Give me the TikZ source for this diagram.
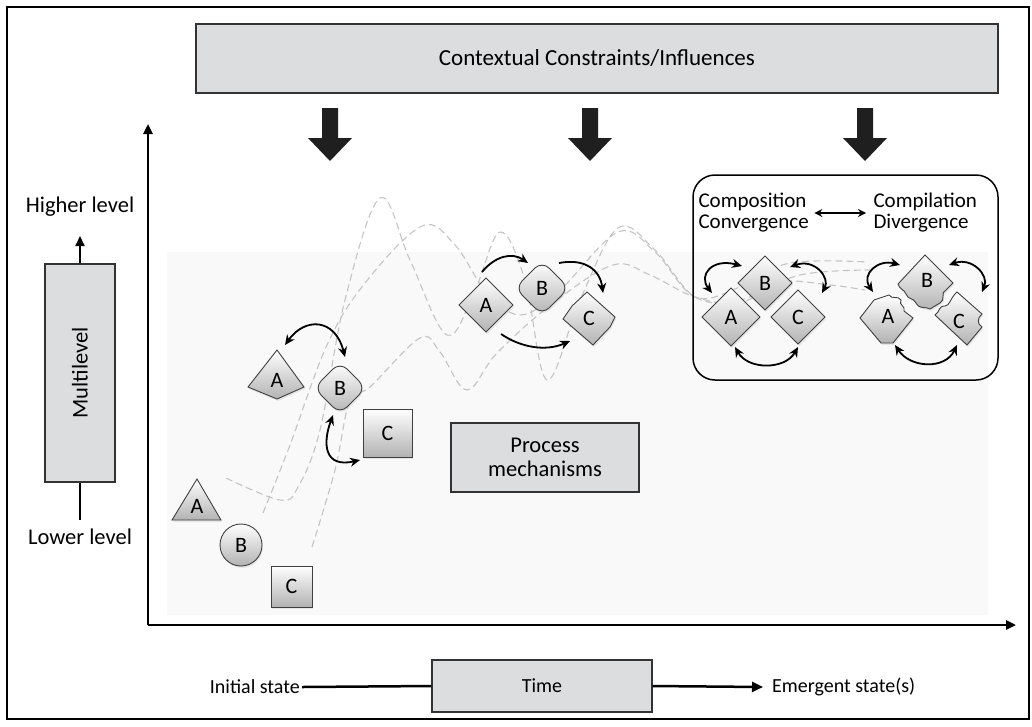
\documentclass[tikz,border=0pt]{standalone}
\usepackage{fontspec}
\setmainfont{Carlito}
\usetikzlibrary{arrows.meta,calc,shadows}
\definecolor{boxgray}{RGB}{220,221,223}
\definecolor{curvegray}{RGB}{196,196,196}
\definecolor{bgfaint}{RGB}{249,249,249}
\begin{document}
\begin{tikzpicture}[x=1pt,y=-1pt,
  font=\fontsize{22.5}{24}\selectfont,
  graybox/.style={draw=black!80, fill=boxgray, line width=1.3pt},
  shp/.style={draw=black!75, line width=0.9pt, top color=white, bottom color=black!30,
    drop shadow={opacity=0.15, shadow xshift=1pt, shadow yshift=-2pt}},
  lbl/.style={inner sep=0pt, font=\fontsize{22}{24}\selectfont},
  dcurve/.style={draw=curvegray, dash pattern=on 7pt off 4pt, line width=1.1pt},
  lnk/.style={line width=1.8pt, -{Stealth[length=10pt,width=9pt]}},
  dlnk/.style={line width=1.8pt, {Stealth[length=10pt,width=9pt]}-{Stealth[length=10pt,width=9pt]}},
  axis/.style={line width=2.4pt, -{Triangle[length=10pt,width=9pt]}},
  blk/.style={fill=black!88}
]
\useasboundingbox (0,0) rectangle (1032,726);
% frame
\draw[line width=1.5pt] (7,7) rectangle (1029,719);
% faint background
\fill[bgfaint] (167,252) rectangle (988,615);

% top box
\node[graybox, minimum width=802pt, minimum height=69pt, font=\fontsize{23}{25}\selectfont] (ctx) at (597,58.5) {Contextual Constraints/Influences};
\foreach \ax in {330,590,865}{
  \fill[blk] ({\ax-8},108) -- ({\ax+8},108) -- ({\ax+8},138) -- ({\ax+22},138) -- (\ax,161) -- ({\ax-22},138) -- ({\ax-8},138) -- cycle;
}

% axes
\coordinate (origin) at (148,625);
\coordinate (ytop) at (148,124);
\coordinate (xend) at (1016,625);
\draw[axis] (origin) -- (ytop);
\draw[axis] (origin) -- (xend);

% multilevel
\node[graybox, minimum width=70pt, minimum height=218pt] (ml) at (80,373) {};
\node[rotate=90] (mltxt) at (ml.center) {Multilevel};
\node (hl) at (80,207) {Higher level};
\node (ll) at (80,537) {Lower level};
\coordinate (mlup) at (80,236);
\coordinate (mldown) at (80,520);
\draw[line width=2pt, -{Triangle[length=10pt,width=9pt]}] (ml.north) -- (mlup);
\draw[line width=2pt] (ml.south) -- (mldown);

% time
\node[anchor=east, font=\fontsize{20}{22}\selectfont, inner sep=2pt] (init) at (302,687) {Initial state};
\node[graybox, minimum width=220pt, minimum height=52pt, font=\fontsize{20}{22}\selectfont] (time) at (542,686) {Time};
\node[anchor=west, font=\fontsize{20}{22}\selectfont, inner sep=2pt] (emerg) at (770,687) {Emergent state(s)};
\coordinate (tip) at (763,687);
\draw[line width=2.5pt] (init.east) -- (time.west);
\draw[line width=2.5pt, -{Triangle[length=11pt,width=10pt]}] (time.east) -- (tip);

% dashed trajectories
\draw[dcurve] plot[smooth, tension=0.6] coordinates {(263,513) (290,445) (327,345) (365,283) (422,226) (455,245) (485,290) (520,315) (560,290) (618,232) (655,252) (695,297) (740,287) (790,263) (868,262)};
\draw[dcurve] plot[smooth, tension=0.6] coordinates {(226,478) (280,500) (298,487) (320,430) (345,300) (380,198) (410,260) (447,335) (475,290) (500,232) (525,280) (547,380) (580,300) (618,228) (655,250) (695,297) (740,300) (800,275) (870,270)};
\draw[dcurve] plot[smooth, tension=0.6] coordinates {(312,547) (335,470) (350,400) (370,387) (420,338) (440,352) (467,390) (497,353) (553,303) (613,265) (650,275) (695,297) (740,303) (780,282) (830,285) (865,290)};

% process mechanisms
\node[graybox, minimum width=188pt, minimum height=69pt, align=center, font=\fontsize{22.5}{24}\selectfont] (proc) at (545,457.5) {Process\\mechanisms};

% stage 1
\path[shp] (197,479) -- (221,520) -- (172,520) -- cycle;
\path[shp] (241,545) circle[radius=21];
\path[shp] (271,566) rectangle (312,607);
\node[lbl] (s1A) at (197,506) {A};
\node[lbl] (s1B) at (241,545) {B};
\node[lbl] (s1C) at (291.5,586.5) {C};

% stage 2
\path[shp] (277,350) -- (304,387) -- (277,399) -- (248,387) -- cycle;
\path[shp, rounded corners=10pt] (340,362) -- (366,388) -- (340,414) -- (314,388) -- cycle;
\path[shp] (363,409) rectangle (412,457);
\node[lbl] (s2A) at (277,380) {A};
\node[lbl] (s2B) at (340,388) {B};
\node[lbl] (s2C) at (387.5,433) {C};
\draw[dlnk] ($(s2A)+(8,-35)$) .. controls ($(s2A)+(28,-63)$) and ($(s2B)+(-5,-70)$) .. ($(s2B)+(5,-31)$);
\draw[dlnk] ($(s2B)+(-7,27)$) .. controls ($(s2B)+(-18,57)$) and ($(s2B)+(-15,80)$) .. ($(s2C)+(-27.5,27)$);

% stage 3
\path[shp] (486,278) -- (513,305) -- (486,332) -- (459,305) -- cycle;
\path[shp, rounded corners=10pt] (542,261) -- (569,288) -- (542,315) -- (515,288) -- cycle;
\path[shp] (587,292) -- (615,317) -- (610,327) -- (593,345) -- (563,319) -- (572,306) -- cycle;
\node[lbl] (s3A) at (486,305) {A};
\node[lbl] (s3B) at (542,288) {B};
\node[lbl] (s3C) at (589,318) {C};
\draw[lnk] ($(s3A)+(-4,-33)$) .. controls ($(s3A)+(9,-49)$) and ($(s3A)+(26,-53)$) .. ($(s3B)+(-14,-25)$);
\draw[lnk] ($(s3B)+(17,-25)$) .. controls ($(s3B)+(43,-30)$) and ($(s3B)+(58,-18)$) .. ($(s3C)+(14,-25)$);
\draw[lnk] ($(s3A)+(15,29)$) .. controls ($(s3A)+(34,42)$) and ($(s3A)+(59,47)$) .. ($(s3C)+(-19,23)$);

% emergent box
\node[draw, rounded corners=22pt, line width=1.5pt, minimum width=305pt, minimum height=205pt] (emb) at (845.5,277.5) {};
\node[anchor=west, align=left, font=\fontsize{21}{21}\selectfont] (comp) at (695,213) {Composition\\Convergence};
\node[anchor=west, align=left, font=\fontsize{21}{21}\selectfont] (compil) at (870,213) {Compilation\\Divergence};
\draw[line width=1.4pt, {Stealth[length=8pt,width=8pt]}-{Stealth[length=8pt,width=8pt]}, shorten <=2pt, shorten >=4pt] (comp.east) -- (compil.west);

% convergence
\path[shp] (731,288) -- (760,317) -- (731,346) -- (702,317) -- cycle;
\path[shp] (765,256) -- (792,283) -- (765,310) -- (738,283) -- cycle;
\path[shp] (798,290) -- (825,317) -- (798,344) -- (771,317) -- cycle;
\node[lbl] (cA) at (731,317) {A};
\node[lbl] (cB) at (765,283) {B};
\node[lbl] (cC) at (798,317) {C};
\draw[dlnk] ($(cA)+(-19,-24)$) .. controls ($(cA)+(-33,-42)$) and ($(cA)+(-19,-59)$) .. ($(cB)+(-23,-17)$);
\draw[dlnk] ($(cB)+(25,-16)$) .. controls ($(cB)+(50,-25)$) and ($(cB)+(65,-5)$) .. ($(cC)+(24,-24)$);
\draw[dlnk] ($(cA)+(4,30)$) .. controls ($(cA)+(17,53)$) and ($(cC)+(-13,53)$) .. ($(cC)+(0,30)$);

% divergence
\path[shp] (925,255) -- (953,283) -- (946,290) .. controls (940,292) and (946,300) .. (940,303) -- (930,309) .. controls (925,306) and (920,310) .. (916,303) .. controls (913,297) and (908,300) .. (906,294) .. controls (904,289) and (900,290) .. (898,284) -- cycle;
\path[shp] (860,318) -- (874,300) -- (889,295) .. controls (892,300) and (898,295) .. (901,300) .. controls (898,305) and (906,306) .. (904,311) -- (913,318) -- (893,343) -- (881,343) -- cycle;
\path[shp] (957,292) -- (982,314) .. controls (977,318) and (977,324) .. (982,327) -- (967,345) -- (935,315) .. controls (940,312) and (938,306) .. (945,306) .. controls (950,306) and (950,298) .. cycle;
\node[lbl] (dA) at (888,316) {A};
\node[lbl] (dB) at (927,280) {B};
\node[lbl] (dC) at (959,321) {C};
\draw[dlnk] ($(dA)+(-15,-24)$) .. controls ($(dA)+(-27,-42)$) and ($(dA)+(-10,-57)$) .. ($(dB)+(-27,-15)$);
\draw[dlnk] ($(dB)+(22,-15)$) .. controls ($(dB)+(45,-23)$) and ($(dB)+(62,-5)$) .. ($(dC)+(23,-29)$);
\draw[dlnk] ($(dA)+(7,29)$) .. controls ($(dA)+(22,52)$) and ($(dC)+(-14,49)$) .. ($(dC)+(-2,24)$);
\end{tikzpicture}
\end{document}
